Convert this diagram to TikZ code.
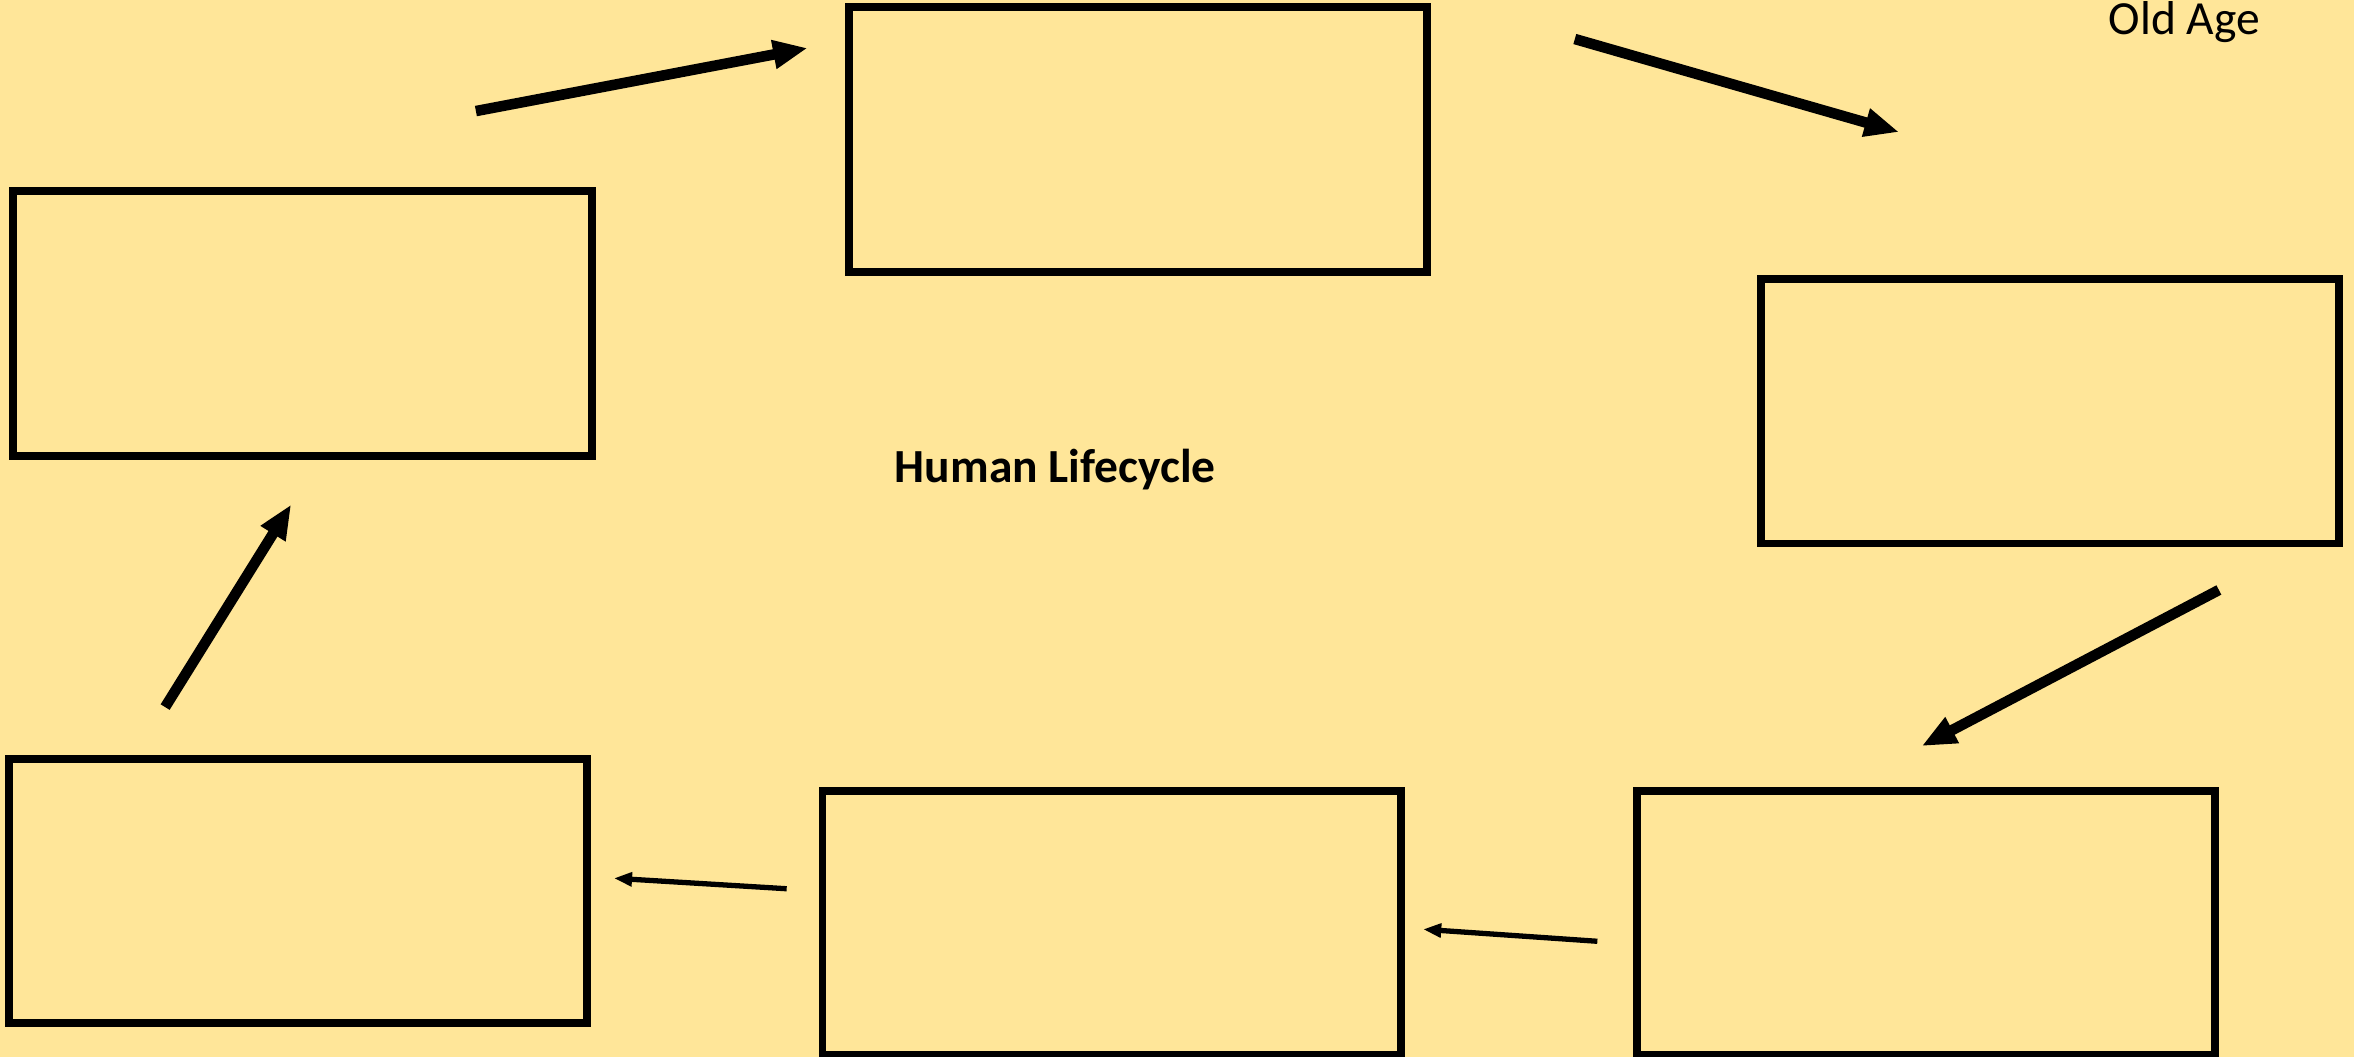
\documentclass[tikz,border=0pt]{standalone}
\usepackage{fontspec}
\setmainfont{Carlito}
\usetikzlibrary{arrows.meta}
\definecolor{pagebg}{HTML}{FFE699}
\tikzset{
  stagebox/.style={draw, line width=1.5pt, minimum width=3.85cm, minimum height=1.76cm, inner sep=0pt},
  bigarrow/.style={line width=2pt, -{Triangle[length=0.23cm, width=0.18cm]}},
  thinarrow/.style={line width=1pt, -{Triangle[length=0.12cm, width=0.09cm]}}
}
\begin{document}
\begin{tikzpicture}[x=0.01cm, y=-0.01cm]
  \fill[pagebg] (0,0) rectangle (1568,704);
  \useasboundingbox (0,0) rectangle (1568,704);

  % boxes
  \node[stagebox] (s1) at (201.5,215.5) {};
  \node[stagebox] (s2) at (758,93) {};
  \node[stagebox] (s3) at (1365.5,274) {};
  \node[stagebox] (s4) at (1283,615) {};
  \node[stagebox] (s5) at (740.5,615) {};
  \node[stagebox] (s6) at (198.5,593.5) {};

  % arrow ends
  \coordinate (a1) at (317,74);   \coordinate (b1) at (538,32);
  \coordinate (a2) at (1049,26);  \coordinate (b2) at (1265,88);
  \coordinate (a3) at (1478,393); \coordinate (b3) at (1280,497);
  \coordinate (a4) at (1064,627); \coordinate (b4) at (948,619);
  \coordinate (a5) at (524,592);  \coordinate (b5) at (409,585);
  \coordinate (a6) at (110,471);  \coordinate (b6) at (194,336);

  \draw[bigarrow] (a1) -- (b1);
  \draw[bigarrow] (a2) -- (b2);
  \draw[bigarrow] (a3) -- (b3);
  \draw[thinarrow] (a4) -- (b4);
  \draw[thinarrow] (a5) -- (b5);
  \draw[bigarrow] (a6) -- (b6);

  \fontsize{9pt}{11pt}\selectfont
  \node (oldage) at (1455,15) {Old Age};
  \node[font=\bfseries] (title) at (703,313) {Human Lifecycle};
\end{tikzpicture}
\end{document}
